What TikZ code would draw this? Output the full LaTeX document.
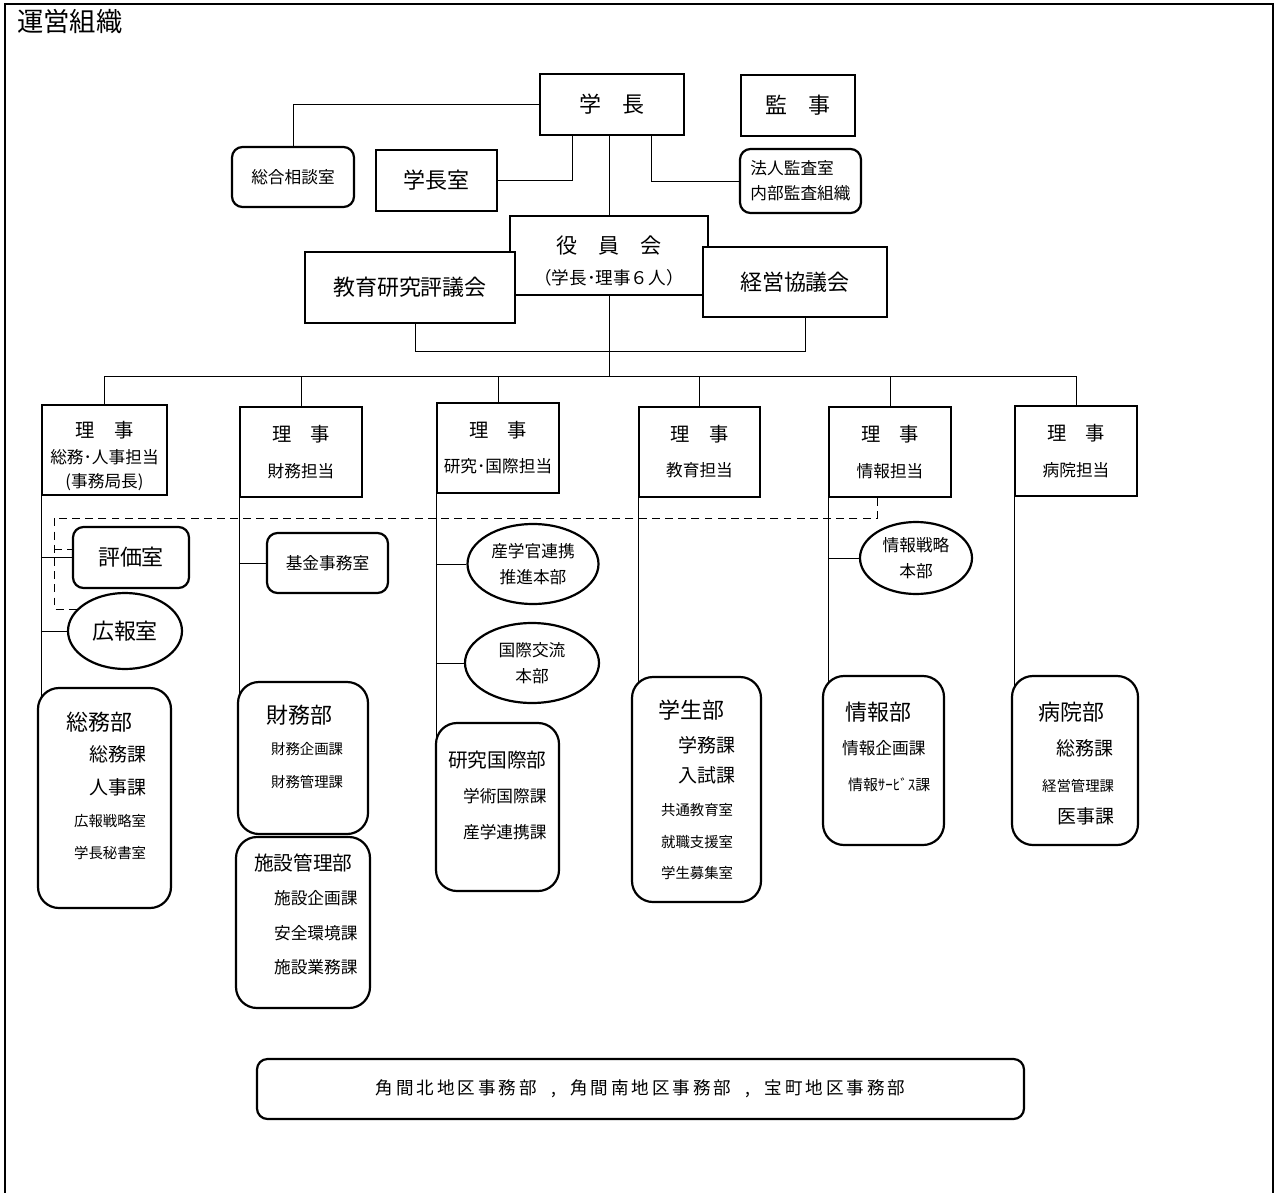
\documentclass[tikz,border=0pt]{standalone}
\usepackage{fontspec}
\setmainfont{Noto Sans CJK JP}
\usetikzlibrary{shapes.geometric,calc,backgrounds}

\begin{document}
\begin{tikzpicture}[x=0.02cm,y=-0.02cm,line width=1.25pt,
    box/.style={draw,fill=white,inner sep=0pt,align=center},
    rbox/.style={box,rounded corners=6pt},
    dept/.style={box,rounded corners=0.42cm},
    oval/.style={box,ellipse},
    txt/.style={anchor=west,inner sep=0pt},
    sz/.style 2 args={minimum width=#1*0.02cm,minimum height=#2*0.02cm},
    hdr/.style={font=\fontsize{12.5}{15}\selectfont},
    mid/.style={font=\fontsize{10.8}{13}\selectfont},
    sm/.style={font=\fontsize{9.5}{12}\selectfont},
    xs/.style={font=\fontsize{8.2}{10}\selectfont},
    dline/.style={dash pattern=on 4.5pt off 3pt}]

    \useasboundingbox (0,0) rectangle (1275,1193);
    \draw[line width=1.6pt] (5,1193) -- (5,4) -- (1273,4) -- (1273,1193);

    \node[txt,font=\fontsize{15}{17}\selectfont] (title) at (16,22) {運営組織};

    \node[box,sz={144}{61},hdr] (gakucho) at (612,104.5) {学\hspace{1em}長};
    \node[box,sz={114}{61},hdr] (kanji) at (798,105.5) {監\hspace{1em}事};
    \node[rbox,sz={121}{64},sm,align=left] (kansa) at (800.5,181) {法人監査室\\[2pt]内部監査組織};
    \node[rbox,sz={122}{60},sm] (sodan) at (293,177) {総合相談室};
    \node[box,sz={121}{61},hdr] (shitsu) at (436.5,180.5) {学長室};
    \node[box,sz={198}{79}] (yakuin) at (609,255.5) {};
    \node[font=\fontsize{10}{12}\selectfont,align=center] (yakuint) at (609,261)
        {{\fontsize{12}{14}\selectfont 役\hspace{1em}員\hspace{1em}会}\\[6pt]（学長･理事６人）};
    \node[box,sz={210}{71},hdr] (hyogi) at (410,287.5) {教育研究評議会};
    \node[box,sz={184}{70},hdr] (keiei) at (795,282) {経営協議会};

    \coordinate (bus) at (609,376);

    \node[box,sz={125}{90}] (riji1) at (104.5,450) {};
    \node[sm,align=center] (riji1t) at (104.5,456)
        {{\fontsize{11}{13}\selectfont 理\hspace{1em}事}\\[3pt]総務･人事担当\\[2pt](事務局長)};
    \node[box,sz={122}{90},sm] (riji2) at (301,452) {{\fontsize{11}{13}\selectfont 理\hspace{1em}事}\\[8pt]財務担当};
    \node[box,sz={122}{90},sm] (riji3) at (498,448) {{\fontsize{11}{13}\selectfont 理\hspace{1em}事}\\[8pt]研究･国際担当};
    \node[box,sz={121}{90},sm] (riji4) at (699.5,452) {{\fontsize{11}{13}\selectfont 理\hspace{1em}事}\\[8pt]教育担当};
    \node[box,sz={122}{90},sm] (riji5) at (890,452) {{\fontsize{11}{13}\selectfont 理\hspace{1em}事}\\[8pt]情報担当};
    \node[box,sz={122}{90},sm] (riji6) at (1076,451) {{\fontsize{11}{13}\selectfont 理\hspace{1em}事}\\[8pt]病院担当};

    \node[rbox,sz={116}{61},hdr] (hyoka) at (131,557.5) {評価室};
    \node[oval,sz={114}{76},hdr] (koho) at (125,631) {広報室};
    \node[rbox,sz={121}{60},sm] (kikin) at (327.5,563) {基金事務室};
    \node[oval,sz={131}{80},sm] (sangaku) at (533,564) {産学官連携\\[3pt]推進本部};
    \node[oval,sz={134}{80},sm] (kokusai) at (532,663) {国際交流\\[3pt]本部};
    \node[oval,sz={112}{72},sm] (senryaku) at (916,558) {情報戦略\\[3pt]本部};

    \node[dept,sz={133}{220}] (somu) at (104.5,798) {};
    \node[dept,sz={130}{152}] (zaimu) at (303,758) {};
    \node[dept,sz={134}{171}] (shisetsu) at (303,922.5) {};
    \node[dept,sz={123}{168}] (kenkyu) at (497.5,807) {};
    \node[dept,sz={129}{225}] (gakusei) at (696.5,789.5) {};
    \node[dept,sz={121}{169}] (joho) at (883.5,760.5) {};
    \node[dept,sz={126}{169}] (byoin) at (1075,760.5) {};

    \node[txt,hdr] (somu0) at (65,722) {総務部};
    \node[txt,mid] (somu1) at (88,754) {総務課};
    \node[txt,mid] (somu2) at (88,787) {人事課};
    \node[txt,xs] (somu3) at (73,821) {広報戦略室};
    \node[txt,xs] (somu4) at (73,853) {学長秘書室};

    \node[txt,hdr] (zaimu0) at (265,715) {財務部};
    \node[txt,xs] (zaimu1) at (270,749) {財務企画課};
    \node[txt,xs] (zaimu2) at (270,782) {財務管理課};

    \node[txt,font=\fontsize{11.2}{13}\selectfont] (shisetsu0) at (253,863) {施設管理部};
    \node[txt,sm] (shisetsu1) at (273,898) {施設企画課};
    \node[txt,sm] (shisetsu2) at (273,933) {安全環境課};
    \node[txt,sm] (shisetsu3) at (273,967) {施設業務課};

    \node[txt,font=\fontsize{11.2}{13}\selectfont] (kenkyu0) at (447,760) {研究国際部};
    \node[txt,sm] (kenkyu1) at (462,796) {学術国際課};
    \node[txt,sm] (kenkyu2) at (462,832) {産学連携課};

    \node[txt,hdr] (gakusei0) at (657,710) {学生部};
    \node[txt,mid] (gakusei1) at (677,745) {学務課};
    \node[txt,mid] (gakusei2) at (677,775) {入試課};
    \node[txt,xs] (gakusei3) at (660,810) {共通教育室};
    \node[txt,xs] (gakusei4) at (660,842) {就職支援室};
    \node[txt,xs] (gakusei5) at (660,873) {学生募集室};

    \node[txt,hdr] (joho0) at (844,712) {情報部};
    \node[txt,sm] (joho1) at (841,748) {情報企画課};
    \node[txt,font=\fontsize{8.5}{10}\selectfont] (joho2) at (847,785) {情報ｻｰﾋﾞｽ課};

    \node[txt,hdr] (byoin0) at (1037,712) {病院部};
    \node[txt,mid] (byoin1) at (1055,748) {総務課};
    \node[txt,xs] (byoin2) at (1041,786) {経営管理課};
    \node[txt,mid] (byoin3) at (1056,816) {医事課};

    \node[rbox,sz={767}{60},font=\fontsize{10}{12}\selectfont\addfontfeatures{LetterSpace=17}] (chiku) at (640.5,1089)
        {角間北地区事務部\hspace{0.8em},\hspace{0.8em}角間南地区事務部\hspace{0.8em},\hspace{0.8em}宝町地区事務部};

    \coordinate (d1) at (54,518);
    \coordinate (d2) at (54,609);
    \coordinate (d3) at (54,549);

    \begin{scope}[on background layer]
    \draw (gakucho.west) -| (sodan.north);
    \draw ($(gakucho.south)+(-40,0)$) |- (shitsu.east);
    \draw (gakucho.south -| yakuin.north) -- (yakuin.north);
    \draw ($(gakucho.south)+(39,0)$) |- (kansa.west);
    \draw (yakuin.south) -- (yakuin.south |- bus);
    \draw ($(hyogi.south)+(5,0)$) -- ++(0,27) -| ($(keiei.south)+(10,0)$);
    \draw (riji1.north |- bus) -- (riji6.north |- bus);
    \foreach \i in {1,...,6}
        \draw (riji\i.north) -- (riji\i.north |- bus);
    \foreach \r/\d in {riji1/somu,riji2/zaimu,riji3/kenkyu,riji4/gakusei,riji5/joho,riji6/byoin}
        \draw (\r.south west) -- (\r.south west |- \d.center);
    \draw (hyoka.west -| riji1.south west) -- (hyoka.west);
    \draw (koho.west -| riji1.south west) -- (koho.west);
    \draw (kikin.west -| riji2.south west) -- (kikin.west);
    \draw (sangaku.west -| riji3.south west) -- (sangaku.west);
    \draw (kokusai.west -| riji3.south west) -- (kokusai.west);
    \draw (senryaku.west -| riji5.south west) -- (senryaku.west);
    \draw[dline] ($(riji5.south)+(-13,0)$) |- (d1) -- (d2) -- (d2 -| koho.north west);
    \draw[dline] (d3) -- (d3 -| hyoka.west);
    \end{scope}

\end{tikzpicture}
\end{document}
